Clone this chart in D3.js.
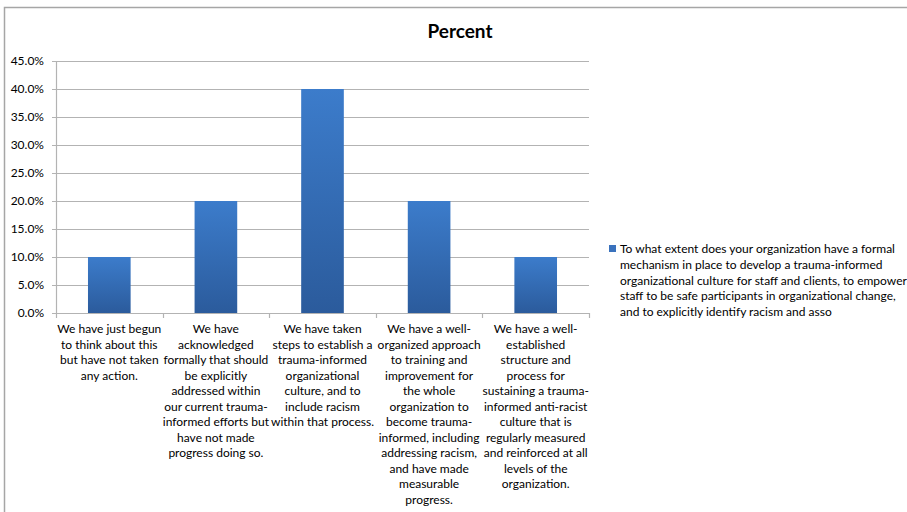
<!DOCTYPE html>
<html>
<head>
<meta charset="utf-8">
<script src="https://cdn.jsdelivr.net/npm/d3@7"></script>
<style>
body { margin: 0; background: #fff; }
text { font-family: Lato, "Open Sans", sans-serif; fill: #000; }
</style>
</head>
<body>
<svg id="chart" width="907" height="512"></svg>
<script>
var categories = [
	["We have just begun", "to think about this", "but have not taken", "any action."],
	["We have", "acknowledged", "formally that should", "be explicitly", "addressed within", "our current trauma-", "informed efforts but", "have not made", "progress doing so."],
	["We have taken", "steps to establish a", "trauma-informed", "organizational", "culture, and to", "include racism", "within that process."],
	["We have a well-", "organized approach", "to training and", "improvement for", "the whole", "organization to", "become trauma-", "informed, including", "addressing racism,", "and have made", "measurable", "progress."],
	["We have a well-", "established", "structure and", "process for", "sustaining a trauma-", "informed anti-racist", "culture that is", "regularly measured", "and reinforced at all", "levels of the", "organization."]
];
var values = [0.10, 0.20, 0.40, 0.20, 0.10];
var yTicks = [0, 0.05, 0.10, 0.15, 0.20, 0.25, 0.30, 0.35, 0.40, 0.45];
var legendLines = [
	"To what extent does your organization have a formal",
	"mechanism in place to develop a trauma-informed",
	"organizational culture for staff and clients, to empower",
	"staff to be safe participants in organizational change,",
	"and to explicitly identify racism and asso"
];

var svg = d3.select('#chart');
var plotLeft = 56, plotRight = 589, plotTop = 61, plotBottom = 313;

// outer frame
svg.append('path')
	.attr('d', 'M4.5,520 V7.5 H910')
	.attr('fill', 'none')
	.attr('stroke', '#a6a6a6')
	.attr('stroke-width', 1.5);

var defs = svg.append('defs');
var grad = defs.append('linearGradient')
	.attr('id', 'barGrad')
	.attr('x1', 0).attr('y1', 0).attr('x2', 0).attr('y2', 1);
grad.append('stop').attr('offset', '0%').attr('stop-color', '#3c7ccb');
grad.append('stop').attr('offset', '100%').attr('stop-color', '#2b5b9c');

var x = d3.scaleBand().domain(d3.range(categories.length)).range([plotLeft, plotRight]).paddingInner(0.6).paddingOuter(0.3);
var y = d3.scaleLinear().domain([0, 0.45]).range([plotBottom, plotTop]);

// gridlines
svg.append('g')
	.selectAll('line')
	.data(yTicks)
	.enter()
	.append('line')
	.attr('x1', plotLeft - 4)
	.attr('x2', plotRight)
	.attr('y1', function(d) { return Math.round(y(d)) + 0.5; })
	.attr('y2', function(d) { return Math.round(y(d)) + 0.5; })
	.attr('stroke', '#b3b3b3')
	.attr('stroke-width', 1.2);

// y axis line
svg.append('line')
	.attr('x1', plotLeft + 0.5).attr('x2', plotLeft + 0.5)
	.attr('y1', plotTop).attr('y2', plotBottom)
	.attr('stroke', '#b3b3b3')
	.attr('stroke-width', 1.2);

// y labels
svg.append('g')
	.selectAll('text')
	.data(yTicks)
	.enter()
	.append('text')
	.attr('x', 44)
	.attr('y', function(d) { return y(d) + 4; })
	.attr('text-anchor', 'end')
	.style('font-size', '12px')
	.text(function(d) { return d3.format('.1%')(d); });

// category ticks
var step = (plotRight - plotLeft) / categories.length;
svg.append('g')
	.selectAll('line')
	.data(d3.range(categories.length + 1))
	.enter()
	.append('line')
	.attr('x1', function(d) { return Math.round(plotLeft + d * step) + 0.5; })
	.attr('x2', function(d) { return Math.round(plotLeft + d * step) + 0.5; })
	.attr('y1', plotBottom)
	.attr('y2', plotBottom + 5)
	.attr('stroke', '#b3b3b3')
	.attr('stroke-width', 1.2);

// bars
svg.append('g')
	.selectAll('rect')
	.data(values)
	.enter()
	.append('rect')
	.attr('x', function(d, i) { return x(i); })
	.attr('y', function(d) { return y(d); })
	.attr('width', x.bandwidth())
	.attr('height', function(d) { return plotBottom - y(d); })
	.attr('fill', 'url(#barGrad)');

// category labels
svg.append('g')
	.selectAll('text')
	.data(categories)
	.enter()
	.append('text')
	.attr('text-anchor', 'middle')
	.style('font-size', '12px')
	.attr('transform', function(d, i) { return 'translate(' + (x(i) + x.bandwidth() / 2) + ',333)'; })
	.each(function(lines) {
		d3.select(this).selectAll('tspan')
			.data(lines)
			.enter()
			.append('tspan')
			.attr('x', 0)
			.attr('y', function(d, j) { return j * 15.5; })
			.text(function(d) { return d; });
	});

// title
svg.append('text')
	.attr('x', 460)
	.attr('y', 38)
	.attr('text-anchor', 'middle')
	.style('font-size', '19px')
	.style('font-weight', 'bold')
	.text('Percent');

// legend
var legend = svg.append('g').attr('transform', 'translate(609,245)');
legend.append('rect')
	.attr('width', 7).attr('height', 7)
	.attr('fill', '#3a72bd');
legend.append('text')
	.style('font-size', '12px')
	.selectAll('tspan')
	.data(legendLines)
	.enter()
	.append('tspan')
	.attr('x', 11)
	.attr('y', function(d, j) { return 8 + j * 15.8; })
	.text(function(d) { return d; });
</script>
</body>
</html>
